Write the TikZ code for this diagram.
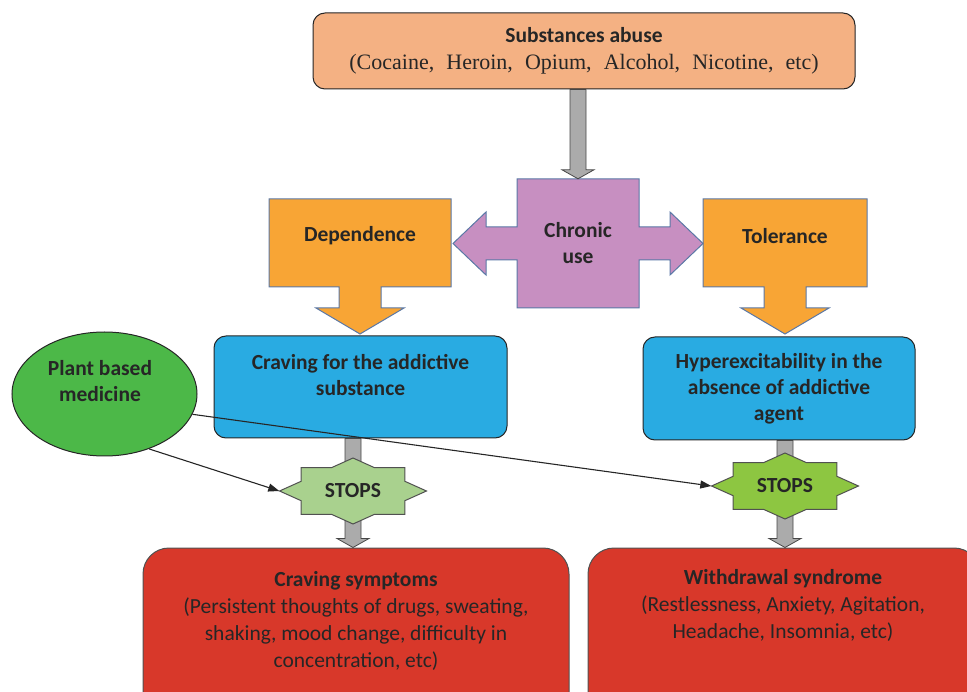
\documentclass[tikz,border=0pt]{standalone}
\usepackage{fontspec}
\setmainfont{Carlito}
\newfontfamily\timesfont[WordSpace=2.2]{Liberation Serif}
\usetikzlibrary{arrows.meta,calc,shapes.geometric}
\definecolor{Ink}{HTML}{262626}
\definecolor{Slate}{HTML}{5A78A6}
\definecolor{Peach}{HTML}{F4B183}
\definecolor{Amber}{HTML}{F8A535}
\definecolor{Orchid}{HTML}{C78FC1}
\definecolor{Sky}{HTML}{29ABE2}
\definecolor{Leaf}{HTML}{4CB848}
\definecolor{Sage}{HTML}{A9D18E}
\definecolor{Lime}{HTML}{8DC641}
\definecolor{Brick}{HTML}{D8382A}
\definecolor{Ash}{HTML}{ABABAB}
\newcommand{\OrangeDrop}[4]{%
  \draw[Slate,line width=1pt,fill=Amber] ({#2-#3},199) -- ({#2+#3},199) -- ({#2+#3},287) -- ({#2+21},287) -- ({#2+21},308) -- ({#2+44},308) -- (#2,334) -- ({#2-44},308) -- ({#2-21},308) -- ({#2-21},287) -- ({#2-#3},287) -- cycle;%
  \node[txt] (#1) at (#2,236) {#4};%
}
\newcommand{\GrayDrop}[2]{%
  \draw[Ink!85,line width=0.8pt,fill=Ash] ($(#1)+(-8,0)$) -- ($(#2)+(-8,-9)$) -- ($(#2)+(-16,-9)$) -- (#2) -- ($(#2)+(16,-9)$) -- ($(#2)+(8,-9)$) -- ($(#1)+(8,0)$) -- cycle;%
}
\newcommand{\StopStar}[4]{%
  \draw[Ink!80,line width=1pt,fill=#4,shift={(#2,#3)}] (0:73.5 and 33)
    \foreach \k [evaluate=\k as \r using {1-0.235*mod(\k,2)}] in {1,...,15} {-- ({22.5*\k}:{73.5*\r} and {33*\r})} -- cycle;%
  \node[txt,minimum width=147pt,minimum height=66pt] (#1) at (#2,#3) {STOPS};%
}

\begin{document}
\begin{tikzpicture}[x=1pt,y=-1pt,
  txt/.style={font=\fontsize{21.5}{26}\selectfont\bfseries,align=center,text=Ink,inner sep=0pt},
  plain/.style={font=\fontsize{21.5}{27}\selectfont,align=center,text=Ink,inner sep=0pt},
  bluebox/.style={draw=Ink,line width=1pt,fill=Sky,rounded corners=12pt},
  redbox/.style={draw=Ink!80,line width=1pt,fill=Brick,rounded corners=26pt},
  hint/.style={draw=Ink,line width=1.1pt,-{Triangle[length=11pt,width=8pt]}}]
\useasboundingbox (0,0) rectangle (967,692);
\clip (0,0) rectangle (967,692);

\node[draw=Ink,line width=1pt,fill=Peach,rounded corners=12pt,minimum width=542pt,minimum height=76pt,
  font=\fontsize{21.5}{27}\selectfont,align=center,text=Ink] (abuse) at (584,51)
  {\textbf{Substances abuse}\\{\fontsize{22}{27}\timesfont (Cocaine, Heroin, Opium, Alcohol, Nicotine, etc)}};

\OrangeDrop{dep}{360}{91}{Dependence}
\OrangeDrop{tol}{785}{82}{Tolerance}
\draw[Slate,line width=1pt,fill=Orchid] (517,179) -- (639,179) -- (639,227) -- (670,227) -- (670,212) -- (703,243.5) -- (670,275) -- (670,260) -- (639,260) -- (639,308) -- (517,308) -- (517,260) -- (486,260) -- (486,275) -- (453,243.5) -- (486,212) -- (486,227) -- (517,227) -- cycle;
\node[txt,minimum width=122pt,minimum height=129pt] (chronic) at (578,243.5) {Chronic\\use};
\GrayDrop{chronic.north |- abuse.south}{chronic.north}

\node[bluebox,minimum width=293pt,minimum height=102pt] (craving) at (360.5,387) {};
\node[txt] (cravingTxt) at (360.5,375.5) {Craving for the addictive\\substance};
\node[bluebox,minimum width=272pt,minimum height=103pt,txt] (hyper) at (779,388.5) {Hyperexcitability in the\\absence of addictive\\agent};

\node[ellipse,draw=Ink,line width=1pt,fill=Leaf,minimum width=185pt,minimum height=124pt] (plant) at (104.5,394) {};
\node[txt] (plantTxt) at (100,381) {Plant based\\medicine};

\node[redbox,minimum width=426pt,minimum height=170pt] (symL) at (356,633) {};
\node[plain] (symLTxt) at (356,620.5) {\textbf{Craving symptoms}\\(Persistent thoughts of drugs, sweating,\\shaking, mood change, difficulty in\\concentration, etc)};
\node[redbox,minimum width=392pt,minimum height=170pt] (symR) at (784,633) {};
\node[plain] (symRTxt) at (783,605) {\textbf{Withdrawal syndrome}\\(Restlessness, Anxiety, Agitation,\\Headache, Insomnia, etc)};

\coordinate (stopLc) at (353,491);
\coordinate (stopRc) at (785,486);
\GrayDrop{stopLc |- craving.south}{stopLc |- symL.north}
\GrayDrop{stopRc |- hyper.south}{stopRc |- symR.north}
\StopStar{stopL}{353}{491}{Sage}
\StopStar{stopR}{785}{486}{Lime}

\draw[hint] (plant.-51) -- (stopL.west);
\draw[hint] (plant.-13) -- (stopR.west);
\end{tikzpicture}
\end{document}
